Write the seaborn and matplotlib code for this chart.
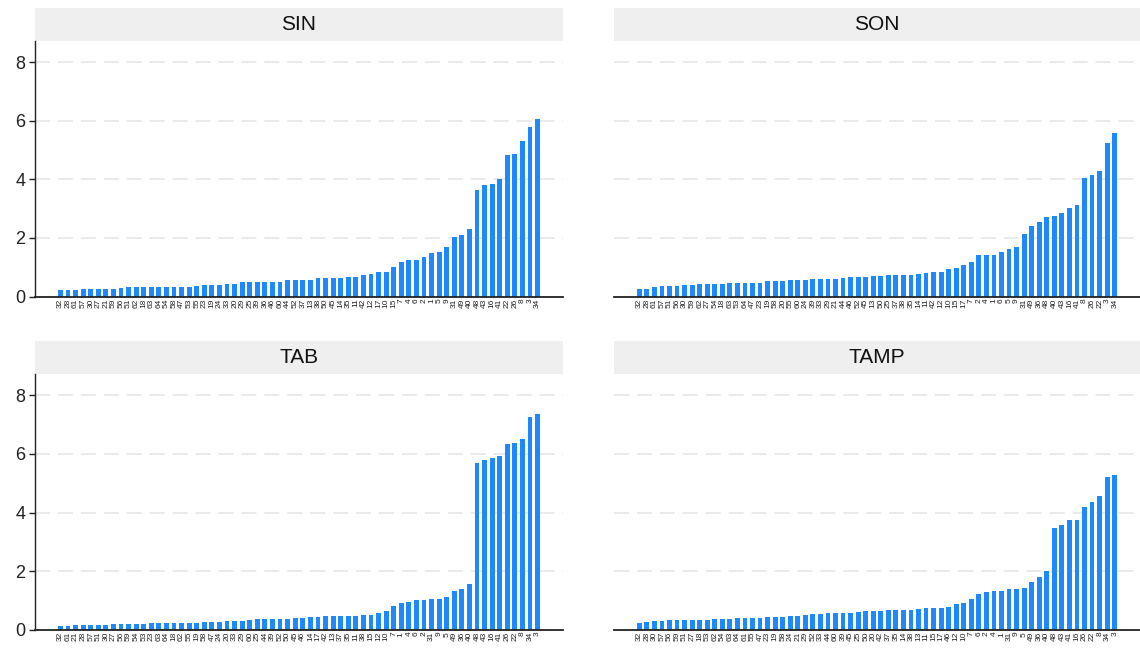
import matplotlib
matplotlib.use("Agg")
import matplotlib.pyplot as plt
import seaborn as sns
from matplotlib.patches import Rectangle

# ---------------- data ----------------
panel_titles = ["SIN", "SON", "TAB", "TAMP"]

sin_ids = [32, 28, 61, 57, 30, 27, 21, 59, 56, 51, 62, 18, 63, 64, 54, 58, 47, 53, 55, 23,
           19, 24, 33, 20, 29, 25, 39, 36, 46, 60, 44, 52, 37, 13, 38, 50, 45, 14, 35, 11,
           42, 12, 17, 10, 15, 7, 4, 6, 2, 1, 5, 9, 31, 49, 40, 48, 43, 16, 41, 22,
           26, 8, 3, 34]
sin_values = [0.21, 0.21, 0.22, 0.27, 0.27, 0.27, 0.27, 0.27, 0.28, 0.31, 0.31, 0.31, 0.31, 0.31,
              0.34, 0.34, 0.34, 0.34, 0.35, 0.38, 0.38, 0.38, 0.44, 0.44, 0.48, 0.48, 0.48,
              0.51, 0.51, 0.51, 0.55, 0.58, 0.58, 0.58, 0.62, 0.62, 0.62, 0.62, 0.65, 0.68,
              0.72, 0.76, 0.83, 0.84, 1.01, 1.18, 1.25, 1.25, 1.35, 1.49, 1.52, 1.69, 2.05,
              2.10, 2.31, 3.64, 3.81, 3.85, 4.02, 4.84, 4.87, 5.32, 5.79, 6.07]

son_ids = [32, 28, 61, 57, 51, 56, 30, 59, 62, 27, 54, 18, 63, 53, 64, 47, 23, 19, 58, 20,
           55, 60, 24, 39, 33, 29, 21, 44, 46, 52, 45, 13, 50, 25, 37, 38, 35, 14, 11, 42,
           12, 10, 15, 17, 7, 2, 4, 1, 6, 5, 9, 31, 49, 36, 48, 40, 43, 16, 41, 8,
           26, 22, 3, 34]
son_values = [0.26, 0.26, 0.33, 0.36, 0.36, 0.36, 0.40, 0.40, 0.43, 0.43, 0.43, 0.43, 0.47, 0.47,
              0.47, 0.47, 0.47, 0.53, 0.53, 0.53, 0.57, 0.57, 0.57, 0.60, 0.60, 0.60, 0.60,
              0.64, 0.67, 0.67, 0.67, 0.70, 0.70, 0.74, 0.74, 0.74, 0.74, 0.77, 0.81, 0.84,
              0.84, 0.94, 0.98, 1.08, 1.18, 1.42, 1.42, 1.42, 1.52, 1.63, 1.69, 2.14, 2.41,
              2.55, 2.72, 2.75, 2.85, 3.02, 3.13, 4.05, 4.15, 4.28, 5.24, 5.58]

tab_ids = [32, 61, 21, 28, 57, 51, 30, 27, 56, 59, 54, 53, 23, 63, 64, 18, 62, 55, 19, 58,
           47, 24, 20, 33, 29, 60, 25, 44, 39, 52, 50, 45, 46, 14, 17, 42, 13, 37, 35, 11,
           38, 15, 12, 10, 7, 1, 4, 6, 2, 31, 9, 5, 49, 36, 40, 48, 43, 16, 41, 26,
           22, 8, 34, 3]
tab_values = [0.13, 0.13, 0.16, 0.16, 0.16, 0.16, 0.16, 0.19, 0.19, 0.19, 0.19, 0.20, 0.23, 0.23,
              0.23, 0.23, 0.23, 0.23, 0.23, 0.26, 0.26, 0.26, 0.30, 0.30, 0.30, 0.33, 0.36,
              0.36, 0.36, 0.36, 0.36, 0.40, 0.40, 0.43, 0.43, 0.47, 0.47, 0.47, 0.47, 0.47,
              0.50, 0.50, 0.57, 0.64, 0.81, 0.91, 0.94, 1.01, 1.01, 1.05, 1.05, 1.11, 1.32,
              1.39, 1.56, 5.68, 5.78, 5.85, 5.92, 6.33, 6.36, 6.50, 7.25, 7.35]

tamp_ids = [32, 28, 30, 57, 56, 59, 51, 27, 18, 53, 62, 54, 63, 64, 61, 55, 47, 23, 19, 58,
            24, 21, 29, 52, 33, 44, 60, 39, 45, 25, 50, 20, 42, 37, 35, 14, 38, 13, 11, 15,
            17, 46, 12, 10, 7, 6, 2, 4, 1, 31, 9, 5, 49, 36, 40, 48, 43, 41, 16, 26,
            22, 8, 34, 3]
tamp_values = [0.23, 0.26, 0.30, 0.30, 0.33, 0.33, 0.33, 0.33, 0.33, 0.33, 0.36, 0.36, 0.36,
               0.40, 0.40, 0.40, 0.40, 0.43, 0.43, 0.43, 0.47, 0.47, 0.50, 0.54, 0.54, 0.57,
               0.57, 0.57, 0.57, 0.62, 0.64, 0.64, 0.64, 0.67, 0.67, 0.67, 0.67, 0.71, 0.74,
               0.74, 0.74, 0.77, 0.88, 0.91, 1.05, 1.22, 1.29, 1.32, 1.32, 1.39, 1.39, 1.42,
               1.63, 1.80, 2.01, 3.48, 3.58, 3.75, 3.75, 4.19, 4.36, 4.58, 5.22, 5.29]

y_ticks = [0, 2, 4, 6, 8]

# ---------------- style ----------------
BAR = "#1E88FF"
STRIP = "#EFEFEF"
GRID = "#E8E8E8"

sns.set_theme(style="white")
plt.rcParams["font.family"] = ["Liberation Sans", "DejaVu Sans"]

W, H = 1140, 651
fig = plt.figure(figsize=(W / 100, H / 100), dpi=100)

# axes rectangles in pixels: (left, top, right, bottom)
boxes = [(35, 41, 563, 296.5), (614, 41, 1140, 296.5),
         (35, 374, 563, 629.7), (614, 374, 1140, 629.7)]
strip_px = 33

panels = [(sin_ids, sin_values), (son_ids, son_values),
          (tab_ids, tab_values), (tamp_ids, tamp_values)]

for i, (title, (ids, vals), box) in enumerate(zip(panel_titles, panels, boxes)):
    l, t, r, b = box
    ax = fig.add_axes([l / W, 1 - b / H, (r - l) / W, (b - t) / H])
    labels = [str(v) for v in ids]
    sns.barplot(x=labels, y=vals, order=labels, ax=ax, color=BAR,
                saturation=1, width=0.64, edgecolor="none")
    n = len(labels)
    ax.set_xlim(-3.35, n - 1 + 3.35)
    ax.set_ylim(0, 8.73)
    ax.set_xlabel("")
    ax.set_ylabel("")
    for yv in y_ticks[1:]:
        ax.axhline(yv, color=GRID, lw=1.3, ls=(0, (8.3, 4.4)), zorder=0)
    ax.set_yticks(y_ticks)
    ax.tick_params(axis="x", labelrotation=90, labelsize=6, length=0, pad=1.5,
                   labelcolor="#222222")
    for s in ["top", "right"]:
        ax.spines[s].set_visible(False)
    ax.spines["bottom"].set_color("#222222")
    ax.spines["bottom"].set_linewidth(1.3)
    if i % 2 == 0:
        ax.spines["left"].set_color("#222222")
        ax.spines["left"].set_linewidth(1.0)
        ax.tick_params(axis="y", labelsize=13, length=4, width=1.0,
                       color="#222222", labelcolor="#222222", left=True, pad=3)
    else:
        ax.spines["left"].set_visible(False)
        ax.tick_params(axis="y", left=False, labelleft=False)
    sh = strip_px / (b - t)
    ax.add_patch(Rectangle((0, 1), 1, sh, transform=ax.transAxes,
                           facecolor=STRIP, edgecolor="none", clip_on=False))
    ax.text(0.5, 1 + sh / 2, title, transform=ax.transAxes, ha="center",
            va="center", fontsize=15, color="#111111")

fig.savefig("out.png", dpi=100)
